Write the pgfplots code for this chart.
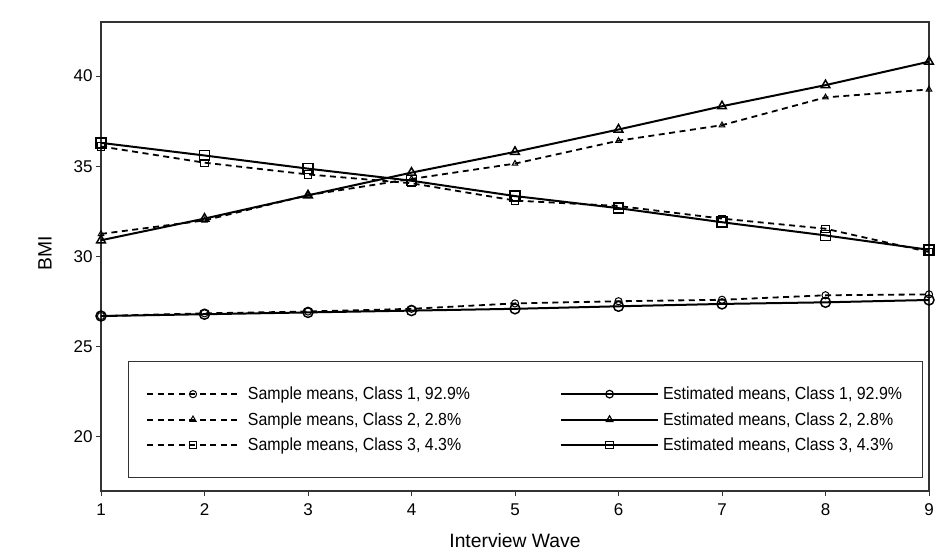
\documentclass[border=0pt]{standalone}
\usepackage{fontspec}
\setmainfont{Liberation Sans}
\newfontfamily\legfont{Liberation Sans}[FakeStretch=0.91]
\usepackage{pgfplots}
\pgfplotsset{compat=1.18}
\newcommand{\tickfont}{\fontsize{17}{20}\selectfont}
\newcommand{\labfont}{\fontsize{19.3}{22}\selectfont}
\newcommand{\legendfont}{\legfont\fontsize{17.5}{20}\selectfont}
\pgfplotsset{
  samplelegend/.style={legend image code/.code={
    \draw[mark repeat=2, mark phase=2, ##1, mark size=3.6pt,
      mark options={solid, fill=white, line width=1pt}]
      plot coordinates {(0pt,0pt) (46pt,0pt) (92pt,0pt)};}},
  estlegend/.style={legend image code/.code={
    \draw[mark repeat=2, mark phase=2, ##1, mark size=3.8pt,
      mark options={solid, fill=white, line width=1.2pt}]
      plot coordinates {(0pt,0pt) (48.5pt,0pt) (97pt,0pt)};}},
}
\begin{document}
\begin{tikzpicture}
\begin{axis}[
  scale only axis,
  width=828pt, height=469pt,
  xmin=1, xmax=9, ymin=17, ymax=43,
  xtick={1,...,9}, ytick={20,25,30,35,40},
  tick align=outside, major tick length=5pt,
  xtick pos=bottom, ytick pos=left,
  axis line style={black!80, line width=1.1pt},
  tick style={black!80, line width=0.9pt},
  /pgf/number format/assume math mode=true,
  tick label style={font=\tickfont},
  xticklabel style={yshift=-4pt},
  label style={font=\labfont},
  xlabel={Interview Wave},
  ylabel={BMI},
  xlabel style={at={(axis description cs:0.5,-0.1066)}, anchor=center},
  ylabel style={at={(axis description cs:-0.0676,0.507)}, anchor=center, rotate=0},
  legend columns=2,
  legend style={
    at={(axis description cs:0.0322,0.277)}, anchor=north west,
    draw=black!80, line width=0.9pt, font=\legendfont,
    inner xsep=18pt, inner ysep=23.5pt,
    row sep=7.3pt,
    cells={anchor=west},
    /tikz/every even column/.append style={column sep=88pt},
  },
  every axis plot/.append style={black},
]
% Sample means class 1
\addplot[line width=1.8pt, dash pattern=on 6pt off 4.5pt, mark=o, mark size=3.6pt,
  mark options={solid, fill=white, line width=1pt}, samplelegend]
  coordinates {(1,26.7) (2,26.85) (3,26.95) (4,27.1) (5,27.4) (6,27.52) (7,27.6) (8,27.85) (9,27.9)};
\addlegendentry{\hspace{6pt}Sample means, Class 1, 92.9\%}
% Estimated class 1
\addplot[line width=2pt, mark=o, mark size=5pt,
  mark options={solid, fill=white, line width=1.5pt}, estlegend]
  coordinates {(1,26.7) (2,26.8) (3,26.9) (4,27.0) (5,27.1) (6,27.24) (7,27.37) (8,27.46) (9,27.59)};
\addlegendentry{\hspace{2pt}Estimated means, Class 1, 92.9\%}
% Sample class 2
\addplot[line width=1.8pt, dash pattern=on 6pt off 4.5pt, mark=triangle, mark size=3.2pt,
  mark options={solid, fill=white, line width=1pt}, samplelegend]
  coordinates {(1,31.25) (2,32.0) (3,33.4) (4,34.3) (5,35.15) (6,36.42) (7,37.28) (8,38.82) (9,39.26)};
\addlegendentry{\hspace{6pt}Sample means, Class 2, 2.8\%}
% Estimated class 2
\addplot[line width=2pt, mark=triangle, mark size=5pt,
  mark options={solid, fill=white, line width=1.5pt}, estlegend]
  coordinates {(1,30.9) (2,32.1) (3,33.39) (4,34.65) (5,35.8) (6,37.04) (7,38.33) (8,39.5) (9,40.8)};
\addlegendentry{\hspace{2pt}Estimated means, Class 2, 2.8\%}
% Sample class 3
\addplot[line width=1.8pt, dash pattern=on 6pt off 4.5pt, mark=square, mark size=3.6pt,
  mark options={solid, fill=white, line width=1pt}, samplelegend]
  coordinates {(1,36.1) (2,35.2) (3,34.55) (4,34.06) (5,33.1) (6,32.8) (7,32.1) (8,31.54) (9,30.25)};
\addlegendentry{\hspace{6pt}Sample means, Class 3, 4.3\%}
% Estimated class 3
\addplot[line width=2pt, mark=square, mark size=5pt,
  mark options={solid, fill=white, line width=1.5pt}, estlegend]
  coordinates {(1,36.3) (2,35.6) (3,34.87) (4,34.2) (5,33.35) (6,32.68) (7,31.9) (8,31.17) (9,30.37)};
\addlegendentry{\hspace{2pt}Estimated means, Class 3, 4.3\%}
\coordinate (bbl) at (rel axis cs:-0.12198,-0.14286);
\coordinate (bbr) at (rel axis cs:1.02295,1.04691);
\end{axis}
\path[use as bounding box] (bbl) rectangle (bbr);
\end{tikzpicture}
\end{document}
